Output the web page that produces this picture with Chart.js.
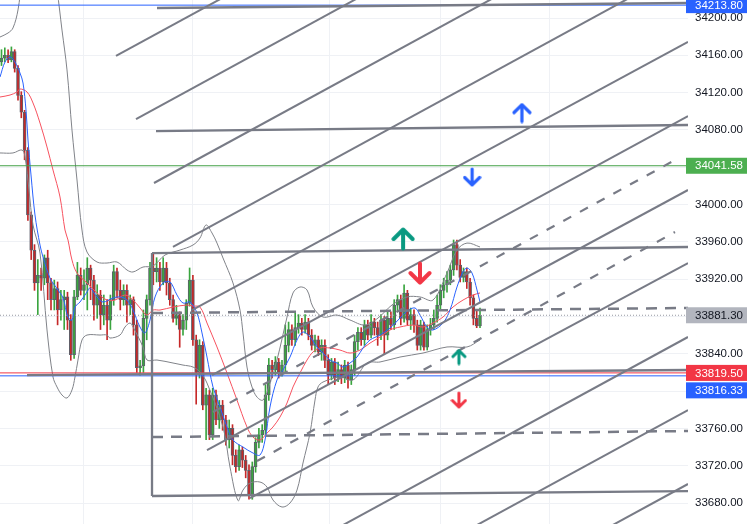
<!DOCTYPE html>
<html><head><meta charset="utf-8">
<script src="https://cdn.jsdelivr.net/npm/chart.js@4.4.1/dist/chart.umd.min.js"></script>
<style>html,body{margin:0;padding:0;background:#fff;overflow:hidden}canvas{display:block}</style>
</head><body>
<canvas id="c" width="751" height="524"></canvas>
<script>
// ---------- candle data (price) ----------
const firstOpen = 34153;
const closes = [34157,34160,34155,34164,34146,34117,34099,34058,33989,33951,
 33916,33924,33921,33943,33916,33898,33910,33887,33898,33901,
 33876,33839,33901,33924,33908,33914,33932,33919,33892,33903,
 33882,33892,33876,33898,33928,33908,33898,33908,33892,33898,
 33871,33825,33827,33878,33898,33932,33928,33932,33917,33932,
 33916,33898,33878,33882,33866,33876,33894,33919,33855,33820,
 33849,33785,33796,33753,33796,33769,33785,33769,33748,33760,
 33731,33719,33737,33726,33715,33689,33719,33745,33753,33758,
 33796,33828,33823,33831,33820,33828,33849,33866,33855,33868,
 33873,33866,33874,33860,33849,33855,33842,33849,33833,33817,
 33831,33814,33823,33814,33828,33812,33823,33853,33863,33855,
 33871,33860,33874,33868,33860,33876,33860,33878,33871,33892,
 33898,33878,33905,33876,33882,33871,33849,33871,33847,33866,
 33871,33878,33892,33908,33914,33919,33930,33957,33935,33922,
 33928,33917,33900,33878,33870,33881.3];
const highs = [34166,34168,34166,34169,34166,34149,34121,34101,34061,33992,
 33957,33941,33932,33946,33951,33921,33919,33917,33908,33908,
 33906,33882,33908,33938,33932,33930,33943,33935,33924,33914,
 33908,33903,33898,33903,33935,33932,33919,33914,33914,33903,
 33901,33876,33833,33887,33903,33938,33948,33943,33938,33943,
 33938,33921,33903,33892,33885,33882,33898,33932,33924,33860,
 33855,33853,33803,33801,33803,33801,33790,33790,33774,33769,
 33764,33737,33742,33740,33731,33721,33724,33750,33760,33764,
 33807,33835,33833,33837,33835,33833,33871,33874,33871,33885,
 33882,33878,33882,33878,33866,33860,33859,33855,33855,33839,
 33835,33835,33831,33828,33833,33831,33828,33860,33868,33868,
 33876,33876,33882,33878,33874,33882,33880,33885,33885,33898,
 33903,33903,33914,33908,33889,33887,33876,33876,33874,33871,
 33878,33887,33903,33914,33921,33928,33935,33962,33962,33941,
 33932,33932,33921,33903,33887,33889];
const lows = [34149,34153,34152,34153,34142,34112,34093,34048,33983,33941,
 33908,33882,33908,33914,33898,33887,33887,33871,33876,33866,
 33866,33833,33835,33898,33903,33898,33887,33898,33876,33878,
 33866,33871,33855,33866,33892,33900,33887,33892,33874,33882,
 33860,33820,33817,33820,33855,33892,33914,33917,33908,33914,
 33903,33892,33874,33871,33847,33860,33866,33891,33849,33786,
 33814,33780,33748,33748,33748,33764,33760,33758,33742,33739,
 33721,33713,33715,33718,33707,33684,33684,33713,33739,33745,
 33753,33790,33814,33817,33814,33816,33820,33842,33849,33849,
 33862,33860,33862,33855,33844,33842,33838,33833,33825,33807,
 33812,33807,33810,33808,33809,33803,33807,33817,33844,33849,
 33849,33855,33857,33860,33849,33855,33839,33855,33866,33866,
 33885,33871,33874,33871,33866,33863,33844,33844,33844,33844,
 33860,33866,33874,33887,33900,33906,33914,33924,33930,33917,
 33917,33910,33892,33871,33868,33868];

// ---------- indicator lines: [barIndex, price] ----------
const emaFast = [[-0.45,34136.7],[1.06,34152.8],[2.58,34158.2],[4.09,34152.8],[5.61,34141.0],[6.52,34130.3],[7.42,34101.4],[8.03,34069.2],[8.94,34031.7],[10.15,33988.8],[11.67,33956.6],[12.58,33943.7],[14.70,33921.2],[17.12,33908.4],[18.64,33899.8],[20.15,33879.4],[21.36,33876.2],[22.27,33890.1],[23.79,33895.5],[25.91,33906.2],[26.82,33910.5],[28.94,33900.9],[30.76,33895.5],[33.79,33899.8],[35.91,33900.9],[38.03,33897.6],[39.85,33886.9],[41.97,33868.7],[43.48,33862.3],[45.0,33876.2],[46.52,33900.9],[48.94,33915.9],[51.06,33917.0],[53.18,33903.0],[55.0,33894.4],[57.12,33895.5],[59.24,33883.7],[60.76,33862.3],[62.27,33836.5],[64.09,33804.4],[66.21,33782.9],[68.33,33761.5],[70.15,33747.5],[73.18,33740.0],[76.21,33733.6],[78.33,33731.4],[79.85,33747.5],[81.36,33782.9],[83.48,33811.9],[85.30,33822.6],[87.42,33836.5],[89.55,33854.8],[91.36,33863.3],[93.48,33858.0],[95.61,33847.3],[97.42,33840.8],[99.55,33833.3],[101.67,33830.1],[103.48,33825.8],[105.61,33830.1],[107.73,33836.5],[109.55,33846.2],[111.67,33854.8],[114.70,33860.1],[117.73,33867.6],[120.76,33878.3],[122.88,33885.8],[125.30,33889.1],[126.82,33881.5],[128.94,33868.7],[130.76,33865.5],[133.79,33873.0],[135.91,33886.9],[138.03,33911.6],[139.85,33927.7],[141.06,33932.0],[142.58,33926.6],[144.09,33908.4],[145.0,33895.5]];
const emaSlow = [[-0.45,34115.3],[2.58,34117.4],[4.70,34120.7],[5.61,34123.9],[7.73,34120.7],[9.55,34108.9],[11.67,34087.4],[13.79,34061.7],[15.61,34037.0],[17.73,34008.1],[19.24,33972.7],[20.15,33962.0],[21.36,33940.5],[22.88,33926.6],[25.91,33915.9],[28.94,33905.2],[31.97,33897.6],[34.39,33897.6],[37.42,33903.0],[39.85,33897.6],[41.97,33889.1],[44.09,33881.5],[45.91,33886.9],[48.03,33886.9],[51.97,33890.1],[56.21,33892.3],[58.03,33891.2],[60.15,33890.1],[62.27,33873.0],[65.30,33847.3],[68.33,33819.4],[71.36,33790.4],[74.39,33761.5],[76.21,33750.7],[78.33,33747.5],[80.45,33755.0],[82.27,33761.5],[84.39,33772.2],[86.52,33787.2],[88.33,33804.4],[90.45,33819.4],[92.58,33833.3],[94.39,33841.9],[96.52,33846.2],[99.55,33846.2],[102.58,33844.0],[105.61,33840.8],[108.64,33844.0],[111.67,33851.5],[114.70,33858.0],[117.73,33865.5],[120.76,33868.7],[124.70,33870.8],[127.73,33868.7],[130.76,33873.0],[133.79,33879.4],[136.82,33890.1],[139.85,33897.6],[142.88,33903.0],[145.0,33905.2]];
const bandUpper = [[-0.45,34179.6],[1.97,34183.9],[3.48,34189.3],[5.0,34208.6],[6.21,34240.7],[8.64,34283.6],[11.67,34305.1],[14.70,34272.9],[16.82,34230.0],[18.33,34187.1],[19.85,34144.3],[21.36,34079.9],[22.88,34026.3],[24.39,33972.7],[25.91,33949.1],[28.94,33938.4],[31.97,33937.3],[35.0,33938.4],[38.03,33929.8],[39.85,33927.7],[42.88,33933.0],[45.91,33934.1],[49.55,33945.9],[54.09,33951.2],[58.03,33956.6],[60.15,33964.1],[61.97,33978.1],[63.79,33969.5],[65.30,33958.7],[67.12,33942.7],[70.15,33915.9],[72.27,33886.9],[73.18,33862.3],[74.39,33825.8],[75.91,33804.4],[77.42,33793.6],[79.24,33790.4],[81.36,33808.6],[83.48,33833.3],[86.52,33879.4],[88.33,33905.2],[90.45,33911.6],[92.58,33908.4],[94.39,33890.1],[97.42,33879.4],[101.67,33881.5],[105.61,33876.2],[110.15,33870.8],[114.09,33878.3],[118.33,33892.3],[122.88,33900.9],[126.82,33900.9],[130.76,33897.6],[135.0,33926.6],[138.03,33951.2],[141.06,33958.7],[145.0,33954.5]];
const bandLower = [[-0.45,34055.3],[3.48,34055.3],[6.21,34058.5],[7.12,34051.0],[8.33,34015.6],[9.55,33978.1],[11.67,33948.0],[13.79,33865.5],[15.61,33815.1],[16.82,33804.4],[18.33,33795.8],[19.85,33792.6],[21.36,33801.2],[22.27,33815.1],[23.18,33833.3],[24.39,33854.8],[25.91,33860.1],[29.85,33860.1],[31.97,33860.1],[32.88,33856.9],[35.91,33860.1],[37.42,33868.7],[38.94,33873.0],[39.85,33868.7],[42.88,33847.3],[44.09,33833.3],[47.12,33833.3],[51.97,33830.1],[55.0,33827.9],[58.03,33825.8],[60.15,33820.4],[62.27,33808.6],[67.12,33761.5],[69.24,33718.6],[71.67,33682.6],[73.18,33693.9],[75.30,33701.4],[78.33,33702.5],[80.45,33697.1],[82.27,33683.2],[85.0,33675.7],[87.42,33680.0],[89.55,33693.9],[91.36,33722.9],[93.48,33755.0],[95.0,33790.4],[95.91,33804.4],[97.42,33809.7],[102.58,33815.1],[106.52,33811.9],[110.76,33830.1],[114.70,33831.2],[120.76,33836.5],[127.73,33840.8],[135.0,33847.3],[141.06,33847.3],[145.0,33854.8]];

// ---------- drawings: [barIndex1, price1, barIndex2, price2] ----------
const channelLines = [
 [34.70,34159.3,208.03,34493.8],[40.76,34091.7,208.03,34414.4],[46.21,34023.1,208.03,34335.1],
 [51.97,33954.5,208.03,34255.8],[57.73,33886.9,208.03,34174.3],[63.79,33817.2,208.03,34094.9],
 [62.27,33736.8,208.03,34015.6],[75.30,33685.3,208.03,33937.3],[90.45,33631.2,208.03,33858.0],
 [120.76,33611.4,208.03,33779.7],[166.2,33619.7,208.03,33700.4]];
const channelMidLines = [[64.09,33777.6,204.09,34047.7],[77.42,33725.0,204.09,33970.5]];
const levelLines = [[47.12,34210.7,208.03,34216.1],[46.82,34078.8,208.03,34085.3],[45.61,33948.0,208.03,33954.5],
 [7.73,33817.2,208.03,33822.6],[45.61,33687.5,208.03,33692.8],[45.61,33948.0,45.61,33687.5]];
const levelDashed = [[45.61,33883.7,208.03,33889.1],[45.61,33750.7,208.03,33757.2]];
const priceLines = [34213.80, 34041.58, 33819.50, 33816.33];
const priceLineColors = ['#2962ff','#43a047','#f23645','#2962ff'];
const lastPrice = 33881.30;
const arrowPts = [[157.7,34098.1],[142.6,34029.5],[121.7,33963.0],[126.8,33926.6],[138.6,33836.5],[138.6,33790.4]];
const arrowDirs = ['up','down','up','down','up','down'];
const arrowColors = ['#2962ff','#2962ff','#089981','#f23645','#089981','#f23645'];
const arrowSizes = [[20,21,3.2],[19,20,3.2],[24,24,4],[24,24,4],[16,17,3],[17,18,3]];
const yTicks = [33680,33720,33760,33800,33840,33880,33920,33960,34000,34040,34080,34120,34160,34200];
const timeGridAt = [24.7, 58.0, 99.5, 132.9, 166.2];
const badges = [
 {v:34213.80, bg:'#2962ff', fg:'#ffffff', dy:0},
 {v:34041.58, bg:'#4caf50', fg:'#ffffff', dy:0},
 {v:33881.30, bg:'#b2b5be', fg:'#131722', dy:0},
 {v:33819.50, bg:'#f23645', fg:'#ffffff', dy:0},
 {v:33816.33, bg:'#2962ff', fg:'#ffffff', dy:14.5}];
const X_MIN = -0.4545, X_MAX = 208.03, Y_MIN = 33657.5, Y_MAX = 34219.3;

// ---------- build ----------
const UP = '#3aa53f', DN = '#c62828';
const opens = closes.map((c,i)=> i===0 ? firstOpen : closes[i-1]);
const candleColors = closes.map((c,i)=> c>=opens[i] ? UP : DN);

function arrowImg(dir, color, w, h, lw){
  const c=document.createElement('canvas'); c.width=w; c.height=h;
  const g=c.getContext('2d'); g.strokeStyle=color; g.lineWidth=lw; g.lineCap='round'; g.lineJoin='round';
  const cx=w/2, m=lw/2+0.5, hw=w/2-m;
  g.beginPath();
  if(dir==='up'){ g.moveTo(cx,m); g.lineTo(cx,h-m); g.moveTo(m,m+hw); g.lineTo(cx,m); g.lineTo(w-m,m+hw); }
  else { g.moveTo(cx,h-m); g.lineTo(cx,m); g.moveTo(m,h-m-hw); g.lineTo(cx,h-m); g.lineTo(w-m,h-m-hw); }
  g.stroke(); return c;
}
const arrowImgs = arrowPts.map((p,i)=>arrowImg(arrowDirs[i], arrowColors[i], arrowSizes[i][0], arrowSizes[i][1], arrowSizes[i][2]));

function seg(a, color, width, dash, order){
  return {type:'line', data:[{x:a[0],y:a[1]},{x:a[2],y:a[3]}], borderColor:color, borderWidth:width,
    borderDash:dash||[], pointRadius:0, fill:false, order:order, tension:0};
}
function curve(pts, color, width, order){
  return {type:'line', data:pts.map(p=>({x:p[0],y:p[1]})), borderColor:color, borderWidth:width,
    pointRadius:0, fill:false, order:order, tension:0.35};
}

const datasets = [];
datasets.push({type:'scatter', data:arrowPts.map(p=>({x:p[0],y:p[1]})), pointStyle:arrowImgs, pointRadius:10, order:0});
channelLines.forEach(a=>datasets.push(seg(a,'#787b86',2,[],20)));
channelMidLines.forEach(a=>datasets.push(seg(a,'#787b86',2.2,[9,10],20)));
levelLines.forEach(a=>datasets.push(seg(a,'#787b86',2.3,[],20)));
levelDashed.forEach(a=>datasets.push(seg(a,'#787b86',2.5,[11,8],20)));
priceLines.forEach((v,i)=>datasets.push(seg([X_MIN,v,X_MAX,v],priceLineColors[i],1,[],30)));
datasets.push(seg([X_MIN,lastPrice,X_MAX,lastPrice],'#9598a1',1,[1,2],30));
datasets.push(curve(emaFast,'#2962ff',1,40));
datasets.push(curve(emaSlow,'#f7525f',1,41));
datasets.push(curve(bandUpper,'#808389',1,50));
datasets.push(curve(bandLower,'#808389',1,50));
datasets.push({type:'bar', data:closes.map((c,i)=>({x:i,y:[opens[i],c]})), backgroundColor:candleColors,
  borderColor:'#5d606b', borderWidth:1, borderSkipped:false, barThickness:3, grouped:false, minBarLength:1, order:99});
datasets.push({type:'bar', data:closes.map((c,i)=>({x:i,y:[lows[i],highs[i]]})), backgroundColor:candleColors,
  barThickness:1, grouped:false, order:100});

const badgePlugin = {
  id:'badges',
  afterDraw(chart){
    const ctx=chart.ctx, ys=chart.scales.y, x0=chart.chartArea.right-2;
    ctx.save();
    ctx.font='11.5px "Liberation Sans", Arial, sans-serif';
    ctx.textBaseline='middle'; ctx.textAlign='left';
    badges.forEach(b=>{
      const y=ys.getPixelForValue(b.v)+b.dy;
      ctx.fillStyle=b.bg; ctx.fillRect(x0, y-8, 61, 16);
      ctx.fillStyle=b.fg; ctx.fillText(b.v.toFixed(2), chart.chartArea.right+7, y+0.5);
    });
    ctx.restore();
  }
};

new Chart(document.getElementById('c'), {
  type:'bar',
  data:{datasets},
  plugins:[badgePlugin],
  options:{
    responsive:false, animation:false, events:[],
    layout:{padding:0, autoPadding:false},
    plugins:{legend:{display:false}, tooltip:{enabled:false}},
    scales:{
      x:{type:'linear', min:X_MIN, max:X_MAX, offset:false,
        grid:{color:'#eff1f5', drawTicks:false, offset:false}, border:{display:false},
        ticks:{display:false},
        afterBuildTicks:s=>{s.ticks=timeGridAt.map(v=>({value:v}));},
        afterFit:s=>{s.height=0; s.paddingLeft=0; s.paddingRight=0;}},
      y:{type:'linear', position:'right', min:Y_MIN, max:Y_MAX,
        grid:{color:'#eff1f5', drawTicks:false}, border:{display:false},
        ticks:{padding:7, color:'#131722', font:{family:'"Liberation Sans", Arial, sans-serif', size:11.5},
          callback:v=>Number(v).toFixed(2)},
        afterBuildTicks:s=>{s.ticks=yTicks.map(v=>({value:v}));},
        afterFit:s=>{s.width=63; s.paddingTop=0; s.paddingBottom=0;}}
    }
  }
});
</script>
</body></html>
